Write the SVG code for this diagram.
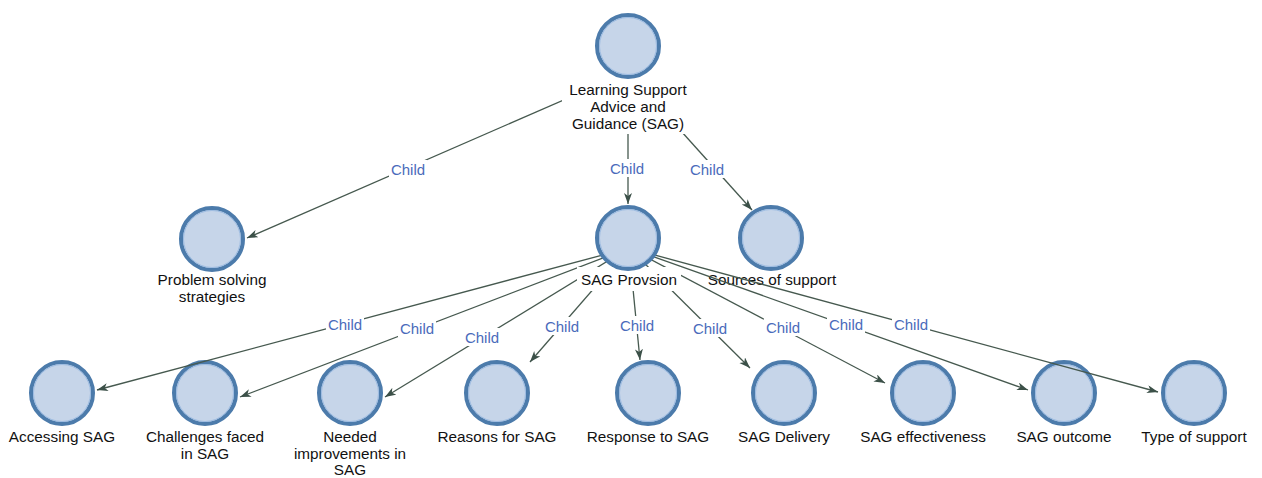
<svg xmlns="http://www.w3.org/2000/svg" width="1262" height="478" viewBox="0 0 1262 478">
  <style>
    .ring { fill: #c6d5e9; stroke: #4c7bab; stroke-width: 4; }
    .inner { fill: none; stroke: #9dbce2; stroke-width: 1; }
    .lbl { font-family: "Liberation Sans", Arial, sans-serif; font-size: 15.3px; fill: #111111; text-anchor: middle; }
    .edge { stroke: #46594f; stroke-width: 1.3; fill: none; marker-end: url(#arrow); }
    .elbl { font-family: "Liberation Sans", Arial, sans-serif; font-size: 15px; fill: #4a6bbb; text-anchor: middle; }
    .ebg { fill: #ffffff; }
    .bg { fill: #ffffff; }
  </style>
  <defs>
    <marker id="arrow" markerUnits="userSpaceOnUse" markerWidth="12" markerHeight="9" refX="11" refY="4" orient="auto">
      <path d="M0,0 L11,4 L0,8 L3,4 z" fill="#3b5048"/>
    </marker>
  </defs>
  <rect width="1262" height="478" fill="#ffffff"/>

  <!-- leaf and intermediate nodes -->
  <g id="node-problem-solving">
    <circle class="ring" cx="212" cy="239" r="31"/>
    <circle class="inner" cx="212" cy="239" r="28.5"/>
    <text class="lbl" x="212" y="285">Problem solving</text>
    <text class="lbl" x="212" y="302">strategies</text>
  </g>
  <g id="node-sources-of-support">
    <circle class="ring" cx="771" cy="238" r="31"/>
    <circle class="inner" cx="771" cy="238" r="28.5"/>
    <text class="lbl" x="772" y="285">Sources of support</text>
  </g>
  <g id="node-accessing-sag">
    <circle class="ring" cx="62" cy="393" r="31"/>
    <circle class="inner" cx="62" cy="393" r="28.5"/>
    <text class="lbl" x="62" y="442">Accessing SAG</text>
  </g>
  <g id="node-challenges">
    <circle class="ring" cx="205" cy="393" r="31"/>
    <circle class="inner" cx="205" cy="393" r="28.5"/>
    <text class="lbl" x="205" y="442">Challenges faced</text>
    <text class="lbl" x="205" y="458.5">in SAG</text>
  </g>
  <g id="node-needed-improvements">
    <circle class="ring" cx="350" cy="393" r="31"/>
    <circle class="inner" cx="350" cy="393" r="28.5"/>
    <text class="lbl" x="350" y="442">Needed</text>
    <text class="lbl" x="350" y="458.5">improvements in</text>
    <text class="lbl" x="350" y="475">SAG</text>
  </g>
  <g id="node-reasons">
    <circle class="ring" cx="497" cy="393" r="31"/>
    <circle class="inner" cx="497" cy="393" r="28.5"/>
    <text class="lbl" x="497" y="442">Reasons for SAG</text>
  </g>
  <g id="node-response">
    <circle class="ring" cx="648" cy="393" r="31"/>
    <circle class="inner" cx="648" cy="393" r="28.5"/>
    <text class="lbl" x="648" y="442">Response to SAG</text>
  </g>
  <g id="node-delivery">
    <circle class="ring" cx="784" cy="393" r="31"/>
    <circle class="inner" cx="784" cy="393" r="28.5"/>
    <text class="lbl" x="784" y="442">SAG Delivery</text>
  </g>
  <g id="node-effectiveness">
    <circle class="ring" cx="923" cy="393" r="31"/>
    <circle class="inner" cx="923" cy="393" r="28.5"/>
    <text class="lbl" x="923" y="442">SAG effectiveness</text>
  </g>
  <g id="node-outcome">
    <circle class="ring" cx="1064" cy="393" r="31"/>
    <circle class="inner" cx="1064" cy="393" r="28.5"/>
    <text class="lbl" x="1064" y="442">SAG outcome</text>
  </g>
  <g id="node-type-of-support">
    <circle class="ring" cx="1194" cy="393" r="31"/>
    <circle class="inner" cx="1194" cy="393" r="28.5"/>
    <text class="lbl" x="1194" y="442">Type of support</text>
  </g>

  <!-- connectors: lines run from the parent's box centre, label boxes sit on top -->
  <g id="connectors">
    <line class="edge" x1="628" y1="72" x2="247" y2="238"/>
    <line class="edge" x1="628" y1="72" x2="628" y2="204"/>
    <line class="edge" x1="628" y1="72" x2="752" y2="210"/>

    <line class="edge" x1="629" y1="248" x2="97" y2="390"/>
    <line class="edge" x1="629" y1="248" x2="240" y2="397"/>
    <line class="edge" x1="629" y1="248" x2="385" y2="397"/>
    <line class="edge" x1="629" y1="248" x2="530" y2="362"/>
    <line class="edge" x1="629" y1="248" x2="640" y2="360"/>
    <line class="edge" x1="629" y1="248" x2="750" y2="368"/>
    <line class="edge" x1="629" y1="248" x2="885" y2="383"/>
    <line class="edge" x1="629" y1="248" x2="1028" y2="390"/>
    <line class="edge" x1="629" y1="248" x2="1158" y2="392"/>

    <rect class="ebg" x="389" y="160" width="38" height="18"/>
    <text class="elbl" x="408" y="174.5">Child</text>
    <rect class="ebg" x="608" y="159" width="38" height="18"/>
    <text class="elbl" x="627" y="173.5">Child</text>
    <rect class="ebg" x="688" y="160" width="38" height="18"/>
    <text class="elbl" x="707" y="174.5">Child</text>

    <rect class="ebg" x="326" y="315" width="38" height="18"/>
    <text class="elbl" x="345" y="329.5">Child</text>
    <rect class="ebg" x="398" y="319" width="38" height="18"/>
    <text class="elbl" x="417" y="333.5">Child</text>
    <rect class="ebg" x="463" y="328" width="38" height="18"/>
    <text class="elbl" x="482" y="342.5">Child</text>
    <rect class="ebg" x="543" y="317" width="38" height="18"/>
    <text class="elbl" x="562" y="331.5">Child</text>
    <rect class="ebg" x="618" y="316" width="38" height="18"/>
    <text class="elbl" x="637" y="330.5">Child</text>
    <rect class="ebg" x="691" y="319" width="38" height="18"/>
    <text class="elbl" x="710" y="333.5">Child</text>
    <rect class="ebg" x="764" y="318" width="38" height="18"/>
    <text class="elbl" x="783" y="332.5">Child</text>
    <rect class="ebg" x="827" y="315" width="38" height="18"/>
    <text class="elbl" x="846" y="329.5">Child</text>
    <rect class="ebg" x="892" y="315" width="38" height="18"/>
    <text class="elbl" x="911" y="329.5">Child</text>
  </g>

  <!-- parent nodes, drawn over the start of their outgoing lines -->
  <g id="node-learning-support">
    <rect class="bg" x="562" y="76" width="132" height="58"/>
    <circle class="ring" cx="628" cy="46" r="31"/>
    <circle class="inner" cx="628" cy="46" r="28.5"/>
    <text class="lbl" x="628" y="95">Learning Support</text>
    <text class="lbl" x="628" y="112">Advice and</text>
    <text class="lbl" x="628" y="128.5">Guidance (SAG)</text>
  </g>
  <g id="node-sag-provision">
    <rect class="bg" x="577" y="267" width="104" height="24"/>
    <circle class="ring" cx="628" cy="238" r="31"/>
    <circle class="inner" cx="628" cy="238" r="28.5"/>
    <text class="lbl" x="629" y="285">SAG Provsion</text>
  </g>
</svg>
